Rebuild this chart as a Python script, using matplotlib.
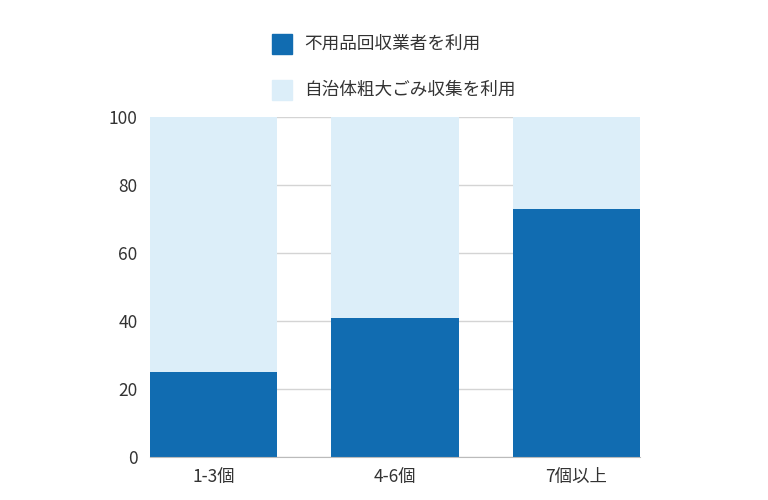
import matplotlib
matplotlib.use("Agg")
import matplotlib.pyplot as plt
from matplotlib.patches import Rectangle

plt.rcParams['font.family'] = ['Noto Sans CJK JP', 'DejaVu Sans']

categories = ["1-3個", "4-6個", "7個以上"]
business = [25, 41, 73]
total = [100, 100, 100]
series_names = ["不用品回収業者を利用", "自治体粗大ごみ収集を利用"]
colors = ["#116CB1", "#DCEEF9"]
yticks = [0, 20, 40, 60, 80, 100]

municipal = [t - b for t, b in zip(total, business)]

fig = plt.figure(figsize=(7.68, 5.0), dpi=100)
ax = fig.add_axes([150/768, 43/500, 490/768, 340/500])

x = list(range(len(categories)))
ax.bar(x, business, width=0.7, color=colors[0], zorder=3)
ax.bar(x, municipal, bottom=business, width=0.7, color=colors[1], zorder=3)

ax.set_xlim(-0.35, len(categories) - 0.65)
ax.set_ylim(0, 100)
ax.set_yticks(yticks)
ax.set_xticks(x)
ax.set_xticklabels(categories)
ax.tick_params(axis='both', length=0, labelsize=12.5, colors='#333333')
ax.tick_params(axis='y', pad=9)
ax.tick_params(axis='x', pad=8)
ax.grid(axis='y', color='#D4D4D4', linewidth=1, zorder=0)
for s in ['top', 'right', 'left']:
    ax.spines[s].set_visible(False)
ax.spines['bottom'].set_color('#BBBBBB')
ax.spines['bottom'].set_zorder(4)

# legend
for i, (name, c) in enumerate(zip(series_names, colors)):
    yc = 44 + i * 46
    fig.patches.append(Rectangle((272/768, 1 - (yc + 10)/500), 20/768, 20/500,
                                 transform=fig.transFigure, color=c, figure=fig))
    fig.text(304/768, 1 - yc/500, name, fontsize=12.7, color='#333333',
             va='center', ha='left')

fig.savefig("out.png", dpi=100)
